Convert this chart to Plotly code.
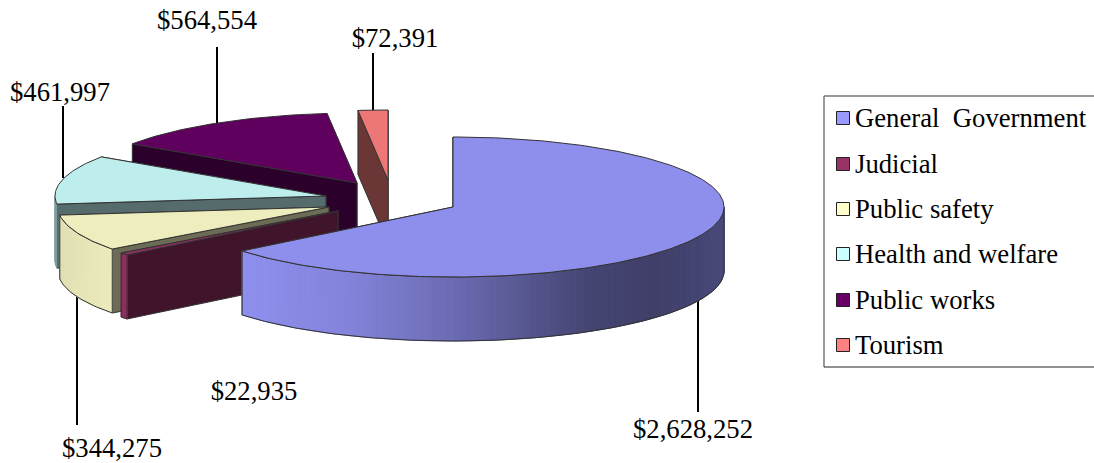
import math
import plotly.graph_objects as go

# Spending by function
categories = ["General\u00a0\u00a0Government", "Judicial", "Public safety",
              "Health and welfare", "Public works", "Tourism"]
values = [2628252, 22935, 344275, 461997, 564554, 72391]
legend_colors = ["#9999FF", "#993366", "#FFFFCC", "#CCFFFF", "#660066", "#FF8080"]

# Projection of the tilted pie, in pixels
WIDTH, HEIGHT = 1094, 463
RX, RY, DEPTH = 271, 70, 64
apex_x = [453, 338, 329, 326, 357, 388]
apex_y = [207, 211, 207, 196, 183, 180]
draw_order = [5, 4, 3, 2, 1, 0]

# Value labels and their leader lines
label_x = [693, 254, 112, 60, 207, 395]
label_y = [431, 393, 450, 94, 22, 40]
leader_x = [698, None, 77, 63, 217, 373]
leader_y0 = [300, None, 296, 106, 47, 53]
leader_y1 = [412, None, 425, 178, 125, 112]

# Lighting of the outer wall across the pie's width
shade_t = [-1.0, -0.75, -0.4, 0.0, 0.5, 0.75, 1.0]
shade_f = [0.88, 0.93, 0.86, 0.70, 0.45, 0.41, 0.48]
TOP_SHADE, FACE_SHADE = 0.93, 0.42


def rgb(color, factor=1.0):
    parts = [int(color[i:i + 2], 16) for i in (1, 3, 5)]
    return "rgb({},{},{})".format(*[round(p * factor) for p in parts])


def shade_at(t):
    for i in range(len(shade_t) - 1):
        if t <= shade_t[i + 1]:
            w = (t - shade_t[i]) / (shade_t[i + 1] - shade_t[i])
            return shade_f[i] + w * (shade_f[i + 1] - shade_f[i])
    return shade_f[-1]


def rim(cx, cy, a0, a1, drop=0.0, step=1.0):
    n = max(2, int(abs(a1 - a0) / step) + 1)
    angles = [a0 + (a1 - a0) * k / (n - 1) for k in range(n)]
    xs = [cx + RX * math.sin(math.radians(a)) for a in angles]
    ys = [cy - RY * math.cos(math.radians(a)) + drop for a in angles]
    return xs, ys


def polygon(fig, xs, ys, fill, line="#333333", width=1):
    fig.add_trace(go.Scatter(
        x=list(xs) + [xs[0]], y=list(ys) + [ys[0]], mode="lines", fill="toself",
        fillcolor=fill, line=dict(color=line, width=width), hoverinfo="skip",
        showlegend=False))


total = sum(values)
bounds = [0.0]
for v in values:
    bounds.append(bounds[-1] + 360.0 * v / total)

fig = go.Figure()

# Leader lines sit behind the slices they run into
for lx, y0, y1 in zip(leader_x, leader_y0, leader_y1):
    if lx is not None:
        fig.add_trace(go.Scatter(x=[lx, lx], y=[y0, y1], mode="lines",
                                 line=dict(color="black", width=2),
                                 hoverinfo="skip", showlegend=False))

# Painter's order: back slices first, each as radial faces, wall, then top
for i in draw_order:
    cx, cy, a0, a1 = apex_x[i], apex_y[i], bounds[i], bounds[i + 1]
    base = legend_colors[i]
    face = rgb(base, FACE_SHADE if i != 0 else 0.3)

    # The radial face nearer the viewer goes on last
    for a in sorted((a0, a1), key=lambda d: -math.cos(math.radians(d))):
        ex, ey = rim(cx, cy, a, a, step=1)
        polygon(fig, [cx, ex[0], ex[0], cx], [cy, ey[0], ey[0] + DEPTH, cy + DEPTH], face)

    w0, w1 = max(a0, 90.0), min(a1, 270.0)
    if w1 > w0:
        n = max(1, int((w1 - w0) / 1.5))
        tx, ty = rim(cx, cy, w0, w1)
        narrow = max(tx) - min(tx) < 3
        for k in range(n):
            s0 = w0 + (w1 - w0) * k / n
            s1 = w0 + (w1 - w0) * (k + 1) / n
            sx, sy = rim(cx, cy, s0, s1, step=0.5)
            bx, by = rim(cx, cy, s0, s1, DEPTH, step=0.5)
            tint = 0.62 if narrow else shade_at(math.sin(math.radians((s0 + s1) / 2)))
            polygon(fig, sx + bx[::-1], sy + by[::-1], rgb(base, tint),
                    line=rgb(base, tint))
        # Slivers of wall stay unoutlined so the outline does not swallow them
        if not narrow:
            bx, by = rim(cx, cy, w0, w1, DEPTH)
            fig.add_trace(go.Scatter(x=tx + bx[::-1] + tx[:1], y=ty + by[::-1] + ty[:1],
                                     mode="lines", line=dict(color="#333333", width=1),
                                     hoverinfo="skip", showlegend=False))

    rx, ry = rim(cx, cy, a0, a1)
    polygon(fig, [cx] + rx, [cy] + ry, rgb(base, TOP_SHADE))

serif = "Liberation Serif"
TEXT_SIZE = 26.7

# Value labels
fig.add_trace(go.Scatter(
    x=label_x, y=label_y, mode="text", text=[f"${v:,}" for v in values],
    textposition="middle center", textfont=dict(family=serif, size=TEXT_SIZE, color="black"),
    hoverinfo="skip", showlegend=False))

# Legend swatches and entries
legend_y = [118, 164, 209, 254, 300, 345]
fig.add_trace(go.Scatter(
    x=[843] * len(categories), y=legend_y, mode="markers",
    marker=dict(symbol="square", size=13, color=legend_colors,
                line=dict(color="#222222", width=1)),
    hoverinfo="skip", showlegend=False))
fig.add_trace(go.Scatter(
    x=[855] * len(categories), y=[y + 2 for y in legend_y], mode="text", text=categories,
    textposition="middle right", textfont=dict(family=serif, size=TEXT_SIZE, color="black"),
    hoverinfo="skip", showlegend=False))

fig.update_layout(
    width=WIDTH, height=HEIGHT, margin=dict(l=0, r=0, t=0, b=0),
    paper_bgcolor="white", plot_bgcolor="white",
    xaxis=dict(range=[0, WIDTH], visible=False, fixedrange=True),
    yaxis=dict(range=[HEIGHT, 0], visible=False, fixedrange=True),
    shapes=[
        dict(type="line", x0=824, x1=1094, y0=96, y1=96, line=dict(color="#777777", width=1.5)),
        dict(type="line", x0=824, x1=824, y0=96, y1=367, line=dict(color="#777777", width=1.5)),
        dict(type="line", x0=824, x1=1094, y0=367, y1=367, line=dict(color="#222222", width=1)),
    ],
)

fig.write_html("out.html", config=dict(displayModeBar=False))
